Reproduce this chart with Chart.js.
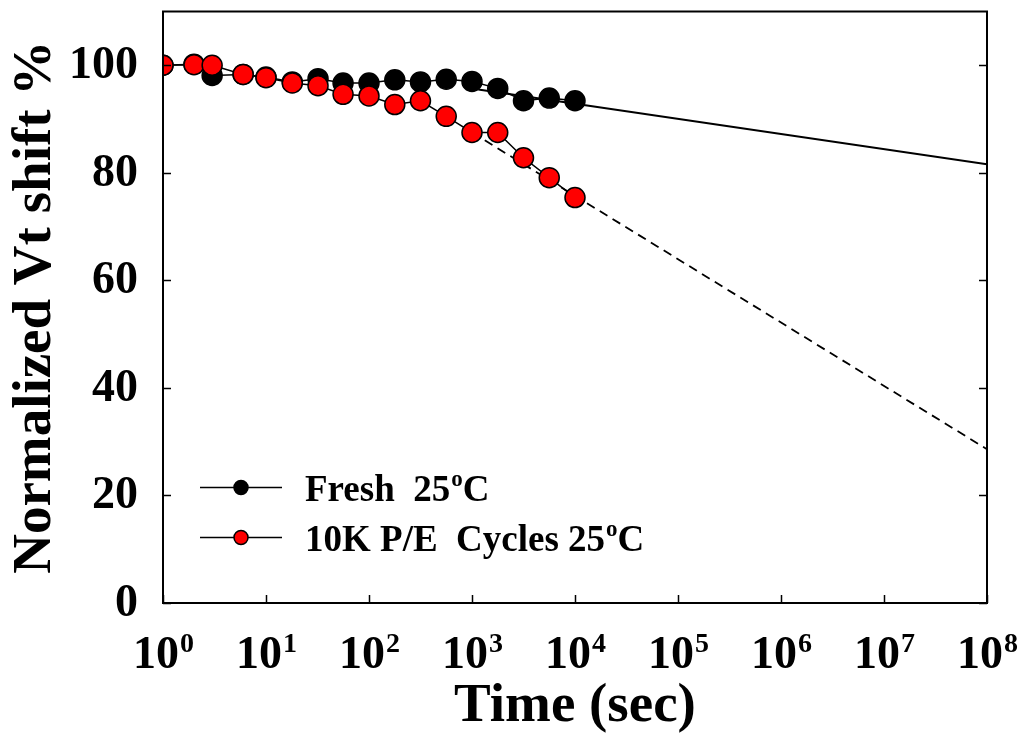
<!DOCTYPE html>
<html><head><meta charset="utf-8">
<script src="https://cdn.jsdelivr.net/npm/chart.js@4.4.0/dist/chart.umd.min.js"></script>
<style>html,body{margin:0;padding:0;background:#fff;}#wrap{width:1023px;height:740px;}</style>
</head><body><div id="wrap"><canvas id="c" width="1023" height="740"></canvas></div>
<script>
// ---- data ----
const timeSec    = [1, 2, 3, 6, 10, 18, 32, 56, 100, 178, 316, 562, 1000, 1778, 3162, 5623, 10000];
const freshVals  = [100, 100.2, 98.1, 98.3, 97.8, 96.9, 97.5, 96.7, 96.7, 97.3, 96.9, 97.4, 97.0, 95.7, 93.4, 93.9, 93.4];
const cycledVals = [100, 100.1, 100, 98.3, 97.7, 96.7, 96.2, 94.6, 94.3, 92.7, 93.4, 90.5, 87.5, 87.5, 82.8, 79.1, 75.4];
const fitFreshTime  = [1150, 1e8];
const fitFreshVals  = [95.5, 81.6];
const fitCycledTime = [1000, 1e8];
const fitCycledVals = [87.5, 28.6];
const xTickExps = [0, 1, 2, 3, 4, 5, 6, 7, 8];
const yTickVals = [0, 20, 40, 60, 80, 100];
const legendLabels = [['Fresh  25', 'o', 'C'], ['10K P/E  Cycles 25', 'o', 'C']];
const xTitle = 'Time (sec)';
const yTitle = 'Normalized Vt shift %';

const FONT = "'Liberation Serif', 'Times New Roman', serif";
const pts = (xs, ys) => xs.map((x, i) => ({x: x, y: ys[i]}));

const decor = {
  id: 'decor',
  afterDraw(chart) {
    const ctx = chart.ctx, ca = chart.chartArea;
    const xs = chart.scales.x, ys = chart.scales.y;
    ctx.save();
    ctx.strokeStyle = '#000';
    // frame
    ctx.lineWidth = 2;
    ctx.strokeRect(ca.left, ca.top, ca.right - ca.left, ca.bottom - ca.top);
    // inward ticks
    ctx.lineWidth = 1.5;
    const tl = 8;
    ctx.beginPath();
    yTickVals.forEach(v => {
      const y = Math.round(ys.getPixelForValue(v)) + 0.5;
      ctx.moveTo(ca.left, y); ctx.lineTo(ca.left + tl, y);
      ctx.moveTo(ca.right, y); ctx.lineTo(ca.right - tl, y);
    });
    xTickExps.forEach(e => {
      const x = Math.round(xs.getPixelForValue(Math.pow(10, e))) + 0.5;
      ctx.moveTo(x, ca.bottom); ctx.lineTo(x, ca.bottom - tl);
    });
    ctx.stroke();
    ctx.fillStyle = '#000';
    // y tick labels
    ctx.font = 'bold 46px ' + FONT;
    ctx.textAlign = 'right';
    ctx.textBaseline = 'middle';
    yTickVals.forEach(v => {
      ctx.fillText(String(v), ca.left - 25, ys.getPixelForValue(v) + 1);
    });
    // x tick labels 10^n
    ctx.textBaseline = 'alphabetic';
    ctx.textAlign = 'left';
    xTickExps.forEach(e => {
      const x = xs.getPixelForValue(Math.pow(10, e));
      ctx.font = 'bold 46px ' + FONT;
      const w1 = ctx.measureText('10').width;
      ctx.font = 'bold 28px ' + FONT;
      const w2 = ctx.measureText(String(e)).width;
      const x0 = x - (w1 + w2) / 2;
      ctx.font = 'bold 46px ' + FONT;
      ctx.fillText('10', x0, ca.bottom + 65);
      ctx.font = 'bold 28px ' + FONT;
      ctx.fillText(String(e), x0 + w1 + 1, ca.bottom + 49);
    });
    // legend
    const dsets = chart.data.datasets;
    const rows = [ca.top + 476, ca.top + 526];
    [0, 1].forEach(i => {
      const ds = dsets[i];
      const y = rows[i];
      ctx.lineWidth = 1.5;
      ctx.strokeStyle = '#000';
      ctx.beginPath();
      ctx.moveTo(ca.left + 37, y); ctx.lineTo(ca.left + 119, y);
      ctx.stroke();
      ctx.beginPath();
      ctx.arc(ca.left + 78, y, 7, 0, Math.PI * 2);
      ctx.fillStyle = ds.pointBackgroundColor;
      ctx.fill();
      ctx.stroke();
      const parts = legendLabels[i];
      let tx = ca.left + 142;
      ctx.fillStyle = '#000';
      ctx.font = 'bold 37px ' + FONT;
      ctx.fillText(parts[0], tx, y + 13);
      tx += ctx.measureText(parts[0]).width + 1;
      ctx.font = 'bold 23px ' + FONT;
      ctx.fillText(parts[1], tx, y - 2);
      tx += ctx.measureText(parts[1]).width;
      ctx.font = 'bold 37px ' + FONT;
      ctx.fillText(parts[2], tx, y + 13);
    });
    ctx.restore();
  }
};

new Chart(document.getElementById('c'), {
  type: 'line',
  data: {
    datasets: [
      { label: 'Fresh 25oC', data: pts(timeSec, freshVals), borderColor: '#000', borderWidth: 1.5,
        pointBackgroundColor: '#000', pointBorderColor: '#000', pointBorderWidth: 1.5, pointRadius: 10,
        fill: false, tension: 0, order: 2 },
      { label: '10K P/E Cycles 25oC', data: pts(timeSec, cycledVals), borderColor: '#000', borderWidth: 1.5,
        pointBackgroundColor: '#ff0000', pointBorderColor: '#000', pointBorderWidth: 1.5, pointRadius: 10,
        fill: false, tension: 0, order: 1 },
      { label: 'fit fresh', data: pts(fitFreshTime, fitFreshVals), borderColor: '#000', borderWidth: 2,
        pointRadius: 0, fill: false, order: 3 },
      { label: 'fit cycled', data: pts(fitCycledTime, fitCycledVals), borderColor: '#000', borderWidth: 1.8,
        borderDash: [9, 6], pointRadius: 0, fill: false, order: 3 }
    ]
  },
  options: {
    responsive: false, animation: false, devicePixelRatio: 1,
    layout: { padding: { top: 10, right: 36, left: 0, bottom: 0 } },
    plugins: { legend: { display: false }, tooltip: { enabled: false } },
    scales: {
      x: {
        type: 'logarithmic', min: 1, max: 1e8,
        afterBuildTicks: s => { s.ticks = xTickExps.map(e => ({ value: Math.pow(10, e) })); },
        afterFit: s => { s.height = 137; },
        grid: { display: false, drawTicks: false }, border: { display: false },
        ticks: { display: false },
        title: { display: true, text: xTitle, color: '#000', padding: 0,
                 font: { family: FONT, size: 55, weight: 'bold' } }
      },
      y: {
        min: 0, max: 110,
        afterBuildTicks: s => { s.ticks = yTickVals.map(v => ({ value: v })); },
        afterFit: s => { s.width = 163; },
        grid: { display: false, drawTicks: false }, border: { display: false },
        ticks: { display: false },
        title: { display: true, text: yTitle, color: '#000', padding: { top: 3, bottom: 0 },
                 font: { family: FONT, size: 55, weight: 'bold' } }
      }
    }
  },
  plugins: [decor]
});
</script></body></html>
